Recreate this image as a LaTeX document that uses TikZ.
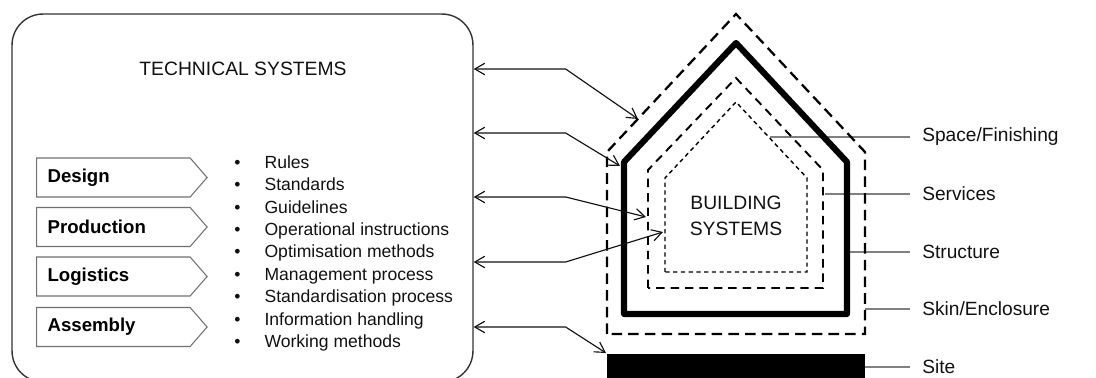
\documentclass[tikz,border=0pt]{standalone}
\usepackage{fontspec}
\setmainfont{Liberation Sans}
\usepackage{tikz}
\usetikzlibrary{arrows.meta,positioning,calc,shapes.symbols}

\definecolor{boxgray}{HTML}{333333}
\definecolor{stagegray}{HTML}{707070}
\definecolor{leadgray}{HTML}{808080}
\definecolor{inkblack}{HTML}{111111}

\tikzset{
  techbox/.style={draw=boxgray, line width=0.8pt, rounded corners=0.62cm, minimum width=9.22cm, minimum height=7.36cm},
  stagebox/.style={signal, signal to=east, signal pointer angle=98, draw=stagegray, line width=0.6pt, minimum height=0.78cm, text width=2.63cm, inner xsep=6.3pt, align=left, anchor=west, font=\fontsize{10.6}{12}\selectfont\bfseries},
  link/.style={draw=inkblack, line width=0.65pt, {Straight Barb[length=2mm,width=2.3mm]}-{Straight Barb[length=2mm,width=2.3mm]}},
  leader/.style={draw=leadgray, line width=0.6pt},
  partlabel/.style={anchor=west, inner xsep=6.8pt, text=inkblack, font=\fontsize{10.9}{13}\selectfont},
  skinline/.style={line width=1.3pt, dash pattern=on 6pt off 3.5pt},
  structureline/.style={line width=3.5pt, line join=round},
  servicesline/.style={line width=1.1pt, dash pattern=on 4.8pt off 3.4pt},
  spaceline/.style={line width=0.8pt, dash pattern=on 2.4pt off 2pt}
}

\begin{document}
\begin{tikzpicture}[x=0.02cm, y=-0.02cm]
  \useasboundingbox (0,0) rectangle (1096,378);
  \clip (0,0) rectangle (1096,378);

  % technical side
  \node (tech) [techbox] at (242.5,198) {};
  \node (techtitle) [text=inkblack, font=\fontsize{11}{13}\selectfont] at (243,69) {TECHNICAL SYSTEMS};

  \node (design) [stagebox] at (36,177.5) {Design};
  \node (production) [stagebox] at (36,227) {Production};
  \node (logistics) [stagebox] at (36,276.5) {Logistics};
  \node (assembly) [stagebox] at (36,327) {Assembly};

  \node (tools) [anchor=west, inner sep=0pt, text=inkblack, font=\fontsize{10}{12.75}\selectfont] at (234,253.5) {%
    \begin{tabular}{@{}l@{\hspace{13.7pt}}l@{}}
      \textbullet & Rules\\
      \textbullet & Standards\\
      \textbullet & Guidelines\\
      \textbullet & Operational instructions\\
      \textbullet & Optimisation methods\\
      \textbullet & Management process\\
      \textbullet & Standardisation process\\
      \textbullet & Information handling\\
      \textbullet & Working methods
    \end{tabular}};

  % labels and leaders
  \node (lbspace) [partlabel] at (910,137) {Space/Finishing};
  \node (lbservices) [partlabel] at (910,194) {Services};
  \node (lbstructure) [partlabel] at (910,252) {Structure};
  \node (lbskin) [partlabel] at (910,309) {Skin/Enclosure};
  \node (lbsite) [partlabel] at (910,367) {Site};

  \coordinate (spacept) at (770,137);
  \coordinate (servicespt) at (825,194);
  \coordinate (structurept) at (849,252);
  \coordinate (skinpt) at (865,309);
  \coordinate (sitept) at (865,367);

  \draw [leader] (spacept) -- (lbspace.west);
  \draw [leader] (servicespt) -- (lbservices.west);
  \draw [leader] (structurept) -- (lbstructure.west);
  \draw [leader] (skinpt) -- (lbskin.west);
  \draw [leader] (sitept) -- (lbsite.west);

  % building layers
  \draw [skinline] (607,334) -- (607,152) -- (736,14) -- (865,152) -- (865,334) -- cycle;
  \draw [structureline] (624,314) -- (624,162) -- (736,43) -- (847,162) -- (847,314) -- cycle;
  \draw [servicesline] (648,288) -- (648,170) -- (736,78) -- (823,170) -- (823,288) -- cycle;
  \draw [spaceline] (665,272) -- (665,178) -- (736,102) -- (807,178) -- (807,272) -- cycle;
  \fill [black] (607,354) rectangle (865,392);

  \node (building) [align=center, text=inkblack, font=\fontsize{11}{14.8}\selectfont] at (736,216) {BUILDING\\SYSTEMS};

  % links between the two sides
  \coordinate (skinroof) at (638,119);
  \coordinate (structurecorner) at (620,166);
  \coordinate (serviceswall) at (646,217);
  \coordinate (spacewall) at (663,232);
  \coordinate (sitecorner) at (606,353);

  \draw [link] (tech.east |- 0,69) -- ++(92,0) -- (skinroof);
  \draw [link] (tech.east |- 0,133) -- ++(92,0) -- (structurecorner);
  \draw [link] (tech.east |- 0,197) -- ++(92,0) -- (serviceswall);
  \draw [link] (tech.east |- 0,262) -- ++(92,0) -- (spacewall);
  \draw [link] (tech.east |- 0,327) -- ++(92,0) -- (sitecorner);
\end{tikzpicture}
\end{document}
